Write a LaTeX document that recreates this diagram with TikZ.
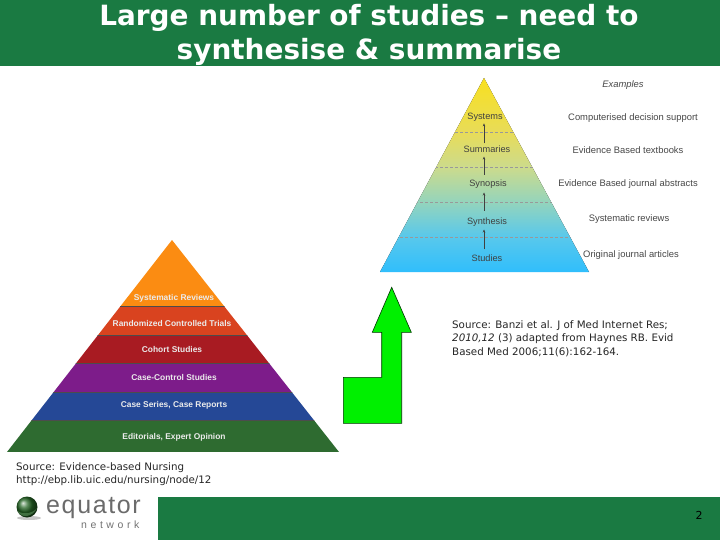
\documentclass[tikz,border=0pt]{standalone}
\usepackage{fontspec}
\setmainfont{DejaVu Sans}
\newfontfamily\arialf{Liberation Sans}
\usetikzlibrary{arrows.meta}
\definecolor{banner}{HTML}{1A7A42}
\definecolor{limeg}{HTML}{00F000}
\definecolor{ya}{HTML}{F8E020}
\definecolor{yb}{HTML}{E8DC58}
\definecolor{yc}{HTML}{CCDB8C}
\definecolor{yd}{HTML}{94D4BC}
\definecolor{ye}{HTML}{58C8EC}
\definecolor{yf}{HTML}{30BEFC}
\definecolor{la}{HTML}{FB8C12}
\definecolor{lb}{HTML}{D9431F}
\definecolor{lc}{HTML}{A81B22}
\definecolor{ld}{HTML}{7D1C8A}
\definecolor{le}{HTML}{254896}
\definecolor{lf}{HTML}{2E6B30}
\tikzset{
  x=1pt,y=-1pt,
  ttl/.style={inner sep=0,font=\fontsize{27.9}{33.5}\selectfont\bfseries,text=white,align=center},
  src/.style={inner sep=0,anchor=west,font=\fontsize{10.3}{12}\selectfont,text=black!85},
  toplbl/.style={inner sep=0,font=\arialf\fontsize{9.2}{10}\selectfont,text=black!75},
  exlbl/.style={inner sep=0,font=\arialf\fontsize{9.4}{10}\selectfont,text=black!72},
  lowlbl/.style={inner sep=0,font=\arialf\bfseries\fontsize{8.4}{10}\selectfont,text=white!92!black},
  sep/.style={black!40,densely dashed,line width=0.3pt},
  up/.style={black!75,line width=0.5pt,-{Stealth[length=3pt,width=2.5pt]}},
}
\begin{document}
\begin{tikzpicture}
\useasboundingbox (0,0) rectangle (720,540);
\fill[white] (0,0) rectangle (720,540);
% banners
\fill[banner] (0,0) rectangle (720,66);
\fill[banner] (158,497) rectangle (720,540);
\node[ttl] (title) at (369,35) {Large number of studies – need to\\synthesise \& summarise};
\node[inner sep=0,font=\fontsize{11}{13}\selectfont] (pg) at (699,515) {2};
% upper pyramid
\begin{scope}
\clip (484,78) -- (589,272) -- (380,272) -- cycle;
\fill[top color=ya,bottom color=yb] (370,78) rectangle (600,132.2);
\fill[top color=yb,bottom color=yc] (370,132) rectangle (600,167.2);
\fill[top color=yc,bottom color=yd] (370,167) rectangle (600,202.2);
\fill[top color=yd,bottom color=ye] (370,202) rectangle (600,237.2);
\fill[top color=ye,bottom color=yf] (370,237) rectangle (600,272);
\foreach \yy in {132,167,202,237}{\draw[sep] (370,\yy) -- (600,\yy);}
\end{scope}
\coordinate (ax) at (484,0);
\node[toplbl] (sys) at (485,117) {Systems};
\node[toplbl] (sum) at (487,149) {Summaries};
\node[toplbl] (syn) at (488,184) {Synopsis};
\node[toplbl] (the) at (487,222) {Synthesis};
\node[toplbl] (stu) at (487,258) {Studies};
\draw[up,shorten <=5pt,shorten >=3pt] (stu.north -| ax) -- (the.south -| ax);
\draw[up,shorten <=7pt,shorten >=4pt] (the.north -| ax) -- (syn.south -| ax);
\draw[up,shorten <=5pt,shorten >=4pt] (syn.north -| ax) -- (sum.south -| ax);
\draw[up,shorten <=2pt,shorten >=2pt] (sum.north -| ax) -- (sys.south -| ax);
\node[exlbl,font=\arialf\itshape\fontsize{9.4}{10}\selectfont] (e0) at (623,85) {Examples};
\node[exlbl] (e1) at (633,118) {Computerised decision support};
\node[exlbl] (e2) at (628,150) {Evidence Based textbooks};
\node[exlbl] (e3) at (628,184) {Evidence Based journal abstracts};
\node[exlbl] (e4) at (629,219) {Systematic reviews};
\node[exlbl] (e5) at (631,255) {Original journal articles};
% lower pyramid
\begin{scope}
\clip (172,240) -- (339,452) -- (7,452) -- cycle;
\fill[la] (0,240) rectangle (350,306);
\fill[lb] (0,306) rectangle (350,335);
\fill[lc] (0,335) rectangle (350,363);
\fill[ld] (0,363) rectangle (350,392);
\fill[le] (0,392) rectangle (350,420);
\fill[lf] (0,420) rectangle (350,452);
\foreach \yy in {306,335,363,392,420}{\draw[black!70,line width=0.5pt] (0,\yy) -- (350,\yy);}
\end{scope}
\node[lowlbl] (l1) at (174,298) {Systematic Reviews};
\node[lowlbl] (l2) at (172,323) {Randomized Controlled Trials};
\node[lowlbl] (l3) at (172,349) {Cohort Studies};
\node[lowlbl] (l4) at (174,377) {Case-Control Studies};
\node[lowlbl] (l5) at (174,405) {Case Series, Case Reports};
\node[lowlbl] (l6) at (174,437) {Editorials, Expert Opinion};
% green arrow
\draw[black!80!green,line width=0.6pt,fill=limeg] (391.7,287.3) -- (411.3,332.3) -- (401.7,332.3) -- (401.7,423.3) -- (343.3,423.3) -- (343.3,377.3) -- (381.7,377.3) -- (381.7,332.3) -- (372.3,332.3) -- cycle;
% sources
\node[src] (s1) at (452,326) {Source: Banzi et al. J of Med Internet Res;};
\node[src] (s2) at (452,339) {\textit{2010,12} (3) adapted from Haynes RB. Evid};
\node[src] (s3) at (452,352) {Based Med 2006;11(6):162-164.};
\node[src] (s4) at (16,468) {Source: Evidence-based Nursing};
\node[src] (s5) at (16,481) {http://ebp.lib.uic.edu/nursing/node/12};
% logo
\fill[black!22] (29,518) ellipse (12 and 2);
\shade[ball color=green!30!black!85!white] (27,507) circle (10.5);
\fill[white!65!green!60!black,opacity=0.55] (17.5,511) .. controls (24,515) and (32,514) .. (37,508) .. controls (33,517) and (21,519) .. (17.5,511) -- cycle;
\node[inner sep=0,anchor=west,text=black!58,font=\arialf\fontsize{25}{25}\selectfont\addfontfeature{LetterSpace=6.5}] (eq) at (46,508) {equator};
\node[inner sep=0,anchor=west,text=black!55,font=\arialf\fontsize{10.5}{11}\selectfont\addfontfeature{LetterSpace=34}] (nw) at (81,525) {network};
\end{tikzpicture}
\end{document}
